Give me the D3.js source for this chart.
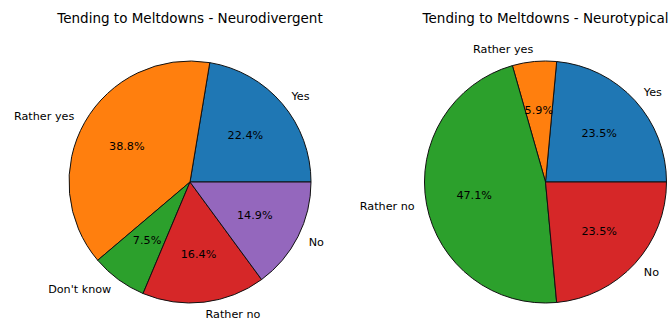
<!DOCTYPE html>
<html>
<head>
<meta charset="utf-8">
<script src="https://cdn.jsdelivr.net/npm/d3@7"></script>
<style>
  html, body { margin: 0; padding: 0; background: #fff; }
  svg { display: block; }
  text { font-family: "DejaVu Sans", sans-serif; fill: #000; }
</style>
</head>
<body>
<svg id="chart" width="670" height="322"></svg>
<script>
// Survey answers: tending to meltdowns
const ndCategories = ["Yes", "Rather yes", "Don't know", "Rather no", "No"];
const ndCounts = [15, 26, 5, 11, 10];
const ndColors = ["#1f77b4", "#ff7f0e", "#2ca02c", "#d62728", "#9467bd"];

const ntCategories = ["Yes", "Rather yes", "Rather no", "No"];
const ntCounts = [4, 1, 8, 4];
const ntColors = ["#1f77b4", "#ff7f0e", "#2ca02c", "#d62728"];

const titles = ["Tending to Meltdowns - Neurodivergent", "Tending to Meltdowns - Neurotypical"];

const svg = d3.select("#chart");

function drawPie(cx, cy, r, title, categories, counts, colors) {
  const g = svg.append("g").attr("transform", `translate(${cx},${cy})`);
  const total = d3.sum(counts);
  // start at 3 o'clock, run counter-clockwise
  const pie = d3.pie().sort(null).startAngle(Math.PI / 2).endAngle(Math.PI / 2 - 2 * Math.PI);
  const arcs = pie(counts);
  const arc = d3.arc().innerRadius(0).outerRadius(r);

  g.selectAll("path.slice").data(arcs).enter().append("path")
    .attr("class", "slice")
    .attr("d", arc)
    .attr("fill", (d, i) => colors[i])
    .attr("stroke", "#111")
    .attr("stroke-width", 1)
    .attr("stroke-linejoin", "round");

  const mid = d => (d.startAngle + d.endAngle) / 2;

  // category labels outside the pie
  g.selectAll("text.cat").data(arcs).enter().append("text")
    .attr("class", "cat")
    .attr("x", d => 1.1 * r * Math.sin(mid(d)))
    .attr("y", d => -1.1 * r * Math.cos(mid(d)))
    .attr("dy", "0.35em")
    .attr("text-anchor", d => Math.sin(mid(d)) < 0 ? "end" : "start")
    .style("font-size", "11.2px")
    .text((d, i) => categories[i]);

  // percentages inside the slices
  g.selectAll("text.pct").data(arcs).enter().append("text")
    .attr("class", "pct")
    .attr("x", d => 0.6 * r * Math.sin(mid(d)))
    .attr("y", d => -0.6 * r * Math.cos(mid(d)))
    .attr("dy", "0.35em")
    .attr("text-anchor", "middle")
    .style("font-size", "11.2px")
    .text(d => (d.value / total * 100).toFixed(1) + "%");

  svg.append("text")
    .attr("x", cx)
    .attr("y", 23)
    .attr("text-anchor", "middle")
    .style("font-size", "13.5px")
    .text(title);
}

drawPie(190, 182, 121, titles[0], ndCategories, ndCounts, ndColors);
drawPie(545.5, 182, 121, titles[1], ntCategories, ntCounts, ntColors);
</script>
</body>
</html>
